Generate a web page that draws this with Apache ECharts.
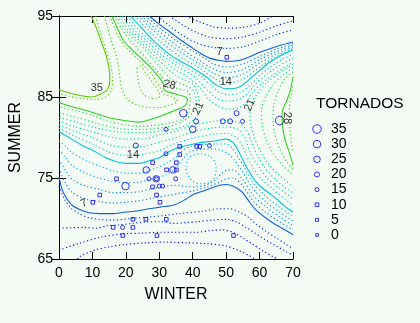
<!DOCTYPE html>
<html><head><meta charset="utf-8">
<script src="https://cdn.jsdelivr.net/npm/echarts@6/dist/echarts.min.js"></script>
<style>html,body{margin:0;padding:0;background:#f4fbf4}#c{width:420px;height:323px}</style>
</head><body><div id="c"></div>
<script>
// ---- axis ticks ----
const xTicks = [0,10,20,30,40,50,60,70];
const yTicks = [65,75,85,95];
// ---- tornado observations (winter temp, summer temp, count) ----
const tornadoX = [50.2,37.2,41.0,49.0,51.2,53.1,54.9,66.0,32.0,40.0,23.0,36.1,41.2,42.1,45.0,32.0,36.1,35.1,28.0,26.1,32.2,34.1,35.1,17.2,26.9,29.1,29.1,34.9,19.9,28.0,30.0,31.0,12.2,29.2,10.1,30.2,22.1,26.0,32.1,16.2,19.0,22.1,19.1,29.3,52.2];
const tornadoY = [89.9,83.0,82.0,82.0,82.0,83.0,82.0,82.1,81.0,81.0,79.0,78.9,78.9,78.9,79.0,78.0,77.9,76.9,76.9,76.0,76.0,76.0,76.0,74.9,74.9,74.9,74.9,74.9,74.0,73.9,74.0,74.0,72.9,72.9,72.0,72.0,69.9,69.9,69.9,68.9,68.9,68.9,67.9,67.9,67.9];
const tornadoN = [10,30,20,20,20,20,15,35,15,25,20,10,10,10,15,15,10,10,10,25,10,25,10,10,15,25,15,15,30,10,15,15,10,10,10,10,10,10,10,10,15,10,10,10,10];
// ---- legend ----
const legendValues = [35,30,25,20,15,10,5,0];
// ---- contour lines ([winter, summer]) ----
const c35 = [[0,85.9],[4,85.4],[9.6,85.0],[11.5,85.2],[14.4,85.9],[15.2,87.2],[14.9,88.7],[13.8,90.5],[12.5,92.0],[11.2,93.5],[9.6,95]];
const c28a = [[15.8,95],[17.5,93.5],[19.2,92.0],[22,90.8],[25,89.6],[27.5,88.6],[29.8,87.5],[31.2,86.7],[31.4,85.9],[34.6,85.4],[37.9,85.0],[38.4,84.6],[37.9,84.0],[35,83.4],[32.6,83.0],[28.8,82.4],[24,81.9],[19.5,82.1],[15.4,82.4],[11.5,82.9],[7.7,83.4],[4,83.8],[0,84.3]];
const c28b = [[70,87.5],[69.3,86],[68.2,84.6],[67,83.5],[66.7,82.6],[67.2,80.5],[67.8,79.5],[68.7,78.4],[70,76.6]];
const c14a = [[21.5,95],[24.5,93.6],[28.2,92],[32,90.6],[35.5,89.6],[39.5,88.7],[44,87.5],[47,86.5],[50,86.0],[53.8,86.2],[57.6,87.4],[62.4,89.1],[67.2,90.3],[70,90.8]];
const c14b = [[0,80.7],[3.8,79.8],[7,79],[10.6,78.3],[14,77.5],[17.3,77.0],[20,76.8],[24,76.8],[27.4,77.2],[30,77.5],[33.1,78.3],[36,78.8],[41.3,79.3],[47,79.6],[50,79.8],[52,79.4],[53.5,78.5],[55.5,76.8],[58.6,74.7],[61,73.7],[64,72.8],[68.2,71.3],[70,70.8]];
const c7a = [[26.9,95],[30,94],[33.6,92.9],[36.5,92],[39.4,91.2],[42.3,90.4],[45.1,89.8],[48,89.5],[50,89.4],[54.7,89.6],[60.5,90.6],[66.3,91.4],[70,91.8]];
const c7b = [[0,75.1],[1,73.5],[2.4,72.4],[4,71.6],[6.2,71.1],[9,70.7],[12,70.6],[15.8,70.6],[20,70.8],[22.6,70.9],[27,71.2],[30.2,71.4],[34.6,71.7],[38,72.4],[40.3,73.0],[42.5,73.3],[45.1,73.7],[48,74.1],[50,74.2],[52,74.0],[54.7,73.3],[56.7,72.2],[58.6,71.2],[62.4,69.9],[65,69.2],[68,68.5],[70,68.0]];
const dA1 = [[29.5,95],[33,93.8],[37,92.6],[41,91.7],[45,91.2],[50,91.0],[55,91.2],[60,91.9],[65,92.7],[70,93.3]];
const dA2 = [[33,95],[37,93.9],[41,93.0],[45,92.4],[50,92.2],[55,92.4],[60,93.0],[65,93.8],[70,94.4]];
const dA3 = [[38,95],[42,94.3],[46,93.7],[50,93.5],[55,93.6],[60,94.1],[64,95]];
const dB1 = [[25.8,95],[30.5,93.4],[34.9,92],[40,90.7],[44.3,89.6],[46,89.1],[50,88.7],[55,89.1],[60,90.0],[65,90.9],[70,91.6]];
const dB2 = [[24.7,95],[29,93.4],[33.2,92],[37.5,90.7],[42.1,89.5],[46,88.5],[50,88.0],[55,88.4],[60,89.6],[65,90.6],[70,91.4]];
const dB3 = [[23.7,95],[27.5,93.5],[31.5,92],[35.5,90.8],[39.9,89.6],[42,89.1],[46,88.0],[50,87.4],[55,87.8],[60,89.2],[65,90.3],[70,91.2]];
const dB4 = [[22.6,95],[26.2,93.5],[29.9,92],[33.8,90.7],[37.7,89.6],[42,88.6],[46,87.4],[50,86.7],[55,87.2],[60,88.7],[65,90.0],[70,91.0]];
const dC1 = [[20.6,95],[24,93.2],[27.2,92],[30.7,90.7],[34.1,89.6],[38.5,88.5],[42.6,87.5],[45.5,86.4],[48.5,85.5],[51,85.3],[54,85.5],[57,86.4],[60,87.6],[63.5,88.8],[67,89.7],[70,90.3]];
const dC2 = [[19.8,95],[23,93.1],[26.1,92],[29.3,90.7],[32.6,89.6],[36.5,88.5],[40.6,87.5],[44,86],[47,84.9],[50,84.5],[53,84.6],[56,85.3],[59,86.7],[62.5,87.9],[66,88.9],[70,89.8]];
const dC3 = [[19,95],[22,93.1],[25,92],[28,90.8],[31.2,89.6],[35,88.3],[38.4,87.5],[42,86.2],[45,84.6],[48,83.8],[51,83.5],[54,83.7],[56,84.4],[58,85.6],[61,86.8],[65,88.0],[70,89.3]];
const d21a = [[18.2,95],[21,93.1],[23.9,92],[26.5,90.9],[29,89.9],[32,88.7],[34.8,87.7],[37.5,87.1],[40,86.6],[41.5,85.4],[42,84],[41.5,82.8],[38,81.5],[32,80.9],[25,80.6],[18,80.7],[11,81.2],[5,81.9],[0,82.5]];
const d21b = [[70,89.0],[66,88.0],[62,86.7],[59.5,85.5],[57.8,84.3],[57.1,83],[57.3,81.7],[58.3,80.2],[60,78.5],[62.5,76.8],[66,75.3],[70,74.0]];
const dD1 = [[17.4,95],[20,93.2],[22.8,92],[25.3,91],[27.7,89.9],[30.2,88.7],[32.5,87.6],[35,86.9],[38,86.4],[40.2,85.8],[41,84.5],[40.2,83.2],[37,82.0],[32,81.3],[25,81.0],[18,81.1],[11,81.8],[5,82.5],[0,83.1]];
const dD2 = [[16.6,95],[18.6,93.5],[21,92.1],[23.5,91],[26,89.8],[28.5,88.6],[30.8,87.5],[32.5,86.6],[35,86.1],[38.5,85.7],[39.3,84.8],[38.5,83.0],[36.5,82.2],[32,81.7],[28.8,81.5],[24,81.4],[19.2,81.6],[14,82.1],[9.6,82.8],[5,83.3],[0,83.8]];
const dE1 = [[70,88.6],[67,87.7],[64,86.5],[61.8,85.0],[60.6,83.3],[60.8,81.5],[62,79.7],[64.3,77.9],[67.3,76.4],[70,75.4]];
const dE2 = [[70,88.1],[67.5,87.2],[65.5,85.7],[64.3,84.1],[64,82.4],[64.6,80.4],[66,78.6],[68,77.1],[70,76.1]];
const dE3 = [[70,86.3],[69.2,84.8],[68.9,83],[69.1,81],[69.5,79.5],[70,78.3]];
const dF1 = [[0,81.15],[5,80.1],[10,79.2],[15,78.2],[20,77.8],[25,77.9],[30,78.4],[35,79.3],[40,79.9],[46,80.4],[50,80.5],[53,80.0],[55,78.9],[56,77.8],[58,76.3],[60.2,75],[64,73.6],[67,72.6],[70,71.6]];
const dF2 = [[0,81.6],[5,80.7],[10,80.0],[15,79.1],[20,78.8],[25,78.9],[30,79.4],[35,80.0],[40,80.7],[46,81.2],[50,81.3],[53.5,81.0],[55.5,80.0],[57.4,78],[60,76.2],[62.2,75],[66,73.7],[70,72.4]];
const dF3 = [[0,82.05],[5,81.3],[10,80.7],[15,80.1],[20,79.8],[25,79.8],[30,80.3],[35,80.8],[40,81.5],[46,82.0],[50,82.1],[54,81.8],[56.3,80.8],[57.8,79.2],[59.1,78],[61.5,76.3],[64.3,75],[67,74.0],[70,73.2]];
const dG1 = [[0,76.2],[2,74.3],[4,73.2],[8,72.4],[12,72.1],[16,71.9],[20,72.0],[24,72.2],[28,72.5],[32,72.8],[36,73.1],[40,73.4],[44,73.85],[48,74.5],[50,74.9],[52,75.0],[55,74.0],[58,72.2],[62,70.7],[66,69.6],[70,68.6]];
const dG2 = [[0,77.3],[2,75.9],[4,74.8],[8,74.0],[12,73.6],[16,73.2],[20,73.2],[24,73.3],[28,73.7],[32,74.0],[35,74.1],[38,73.95],[41,73.9],[44,74.15],[46.5,74.7],[48.5,75.5],[50.5,76.0],[52,76.0],[55,74.8],[58,72.9],[62,71.4],[66,70.2],[70,69.1]];
const dG3 = [[0,78.5],[2,77.5],[4,76.5],[8,75.6],[12,75.0],[16,74.6],[20,74.4],[24,74.5],[28,74.9],[32,75.4],[35,76.2],[37,77.3],[39,78.2],[42,78.5],[45,78.6],[48,78.5],[50.5,78.0],[52.5,77.2],[55,75.7],[58,73.7],[62,72.0],[66,70.8],[70,69.7]];
const dG4 = [[0,79.6],[2,78.9],[4,78.1],[8,77.2],[12,76.5],[16,75.9],[20,75.6],[24,75.6],[28,76.1],[32,76.8],[35,77.6],[37,78.4],[39.5,78.9],[43,79.1],[47,79.2],[50,79.2],[52,78.6],[53.5,77.6],[55.5,76.3],[58,74.4],[62,72.7],[66,71.4],[70,70.2]];
const dLoop = [[38,76.4],[38.6,77.3],[40,77.8],[42.5,78.0],[45,77.7],[46.6,77.0],[47,76.0],[46.4,75.0],[44.8,74.4],[42.5,74.3],[40,74.6],[38.5,75.4],[38,76.4]];
const dH1 = [[0,74.0],[1.5,72.5],[3.5,71.3],[6,70.6],[9,70.1],[12,69.9],[15.8,69.8],[21.6,70.0],[27.4,70.2],[32.2,70.4],[36,70.6],[43,70.9],[48,71.2],[51,71.2],[54,70.8],[56.5,70.2],[59,69.3],[62,68.4],[65,67.6],[68,66.8],[70,66.3]];
const dH2 = [[0,68.8],[7.7,68.9],[11,68.8],[14.4,69.1],[17.8,69.2],[22,69.4],[26.4,69.6],[30,69.6],[34.6,69.4],[38,69.5],[41.3,69.6],[46,69.8],[50,69.9],[53,69.6],[56,68.9],[59,68.1],[62,67.3],[65,66.6],[68,65.9],[70,65.5]];
const dH3 = [[0,66.1],[5.8,66.9],[12.5,67.7],[19.2,68.1],[25,68.2],[31,68.3],[34.6,68.3],[41.3,68.3],[45.1,68.5],[49,68.6],[52,68.3],[55,67.6],[58,66.8],[61,66.0],[64,65.3],[65.5,65]];
const dH4 = [[5.5,65],[6.2,65.3],[10.6,66.1],[15,66.5],[20,66.8],[26,67.0],[32,67.1],[38,67.0],[44,66.9],[50,66.6],[54,66.0],[57,65.4],[58.5,65]];
const dI2 = [[13.6,95],[14.6,93.5],[15.6,92],[16.8,90.5],[17.7,89],[18.2,87.5],[18.8,86],[20.5,84.7],[23.5,84.0],[27,83.7],[30,83.7],[33,84.0],[35.5,84.5],[33.5,85.1],[31.2,85.4],[30.2,86.2],[28.3,87.5],[26,88.6],[23.5,89.7],[20.5,90.9],[17.9,92.3],[16.4,93.7],[15.2,95]];
const dI3 = [[23.3,88.6],[23.6,87.3],[24.2,86.1],[25.4,85.3],[27,84.9],[29,84.8],[30.2,85.1],[29.5,85.9],[27.8,86.9],[26,87.9],[24.3,88.8],[23.3,88.6]];
const dI4 = [[11.0,95],[12,93.5],[13.1,92],[14.3,90.5],[15.4,89],[16,87.4],[15.7,85.9],[14,85.0],[11,84.7],[7,84.8],[3,85.1],[0,85.4]];
// contour label positions and texts
const contourLabels = [[11.3,86.1,'35'],[33.1,86.5,'28'],[41.7,83.6,'21'],[57.1,84.0,'21'],[68.2,82.4,'28'],[49.9,86.8,'14'],[22.1,77.9,'14'],[48.0,90.6,'7'],[7.5,71.9,'7']];

// ---- styling ----
const FONT = 'Liberation Sans, Arial, sans-serif';
const levelColor = {1.4:'#0000f6',2.8:'#0010f2',4.2:'#0024ee',5.6:'#0040e8',7:'#1060e0',8.4:'#0878e4',9.8:'#068ee2',11.2:'#04a4de',12.6:'#02b6da',14:'#00c4d8',15.4:'#00cace',16.8:'#00cfc0',18.2:'#00d3b0',19.6:'#00d6a0',21:'#00d890',23.8:'#14d868',26.6:'#24d43c',28:'#30d020',29.4:'#3ccf14',30.8:'#44cc0c',33.6:'#54c802',35:'#5cc800'};
const lines = [
  [dA1,5.6,0],[dA2,4.2,0],[dA3,2.8,0],
  [dB1,8.4,0],[dB2,9.8,0],[dB3,11.2,0],[dB4,12.6,0],
  [dC1,15.4,0],[dC2,16.8,0],[dC3,18.2,0],[d21a,21,0],[d21b,21,0],
  [dD1,23.8,0],[dD2,26.6,0],[dE1,23.8,0],[dE2,26.6,0],[dE3,29.4,0],
  [dF1,16.8,0],[dF2,18.2,0],[dF3,19.6,0],
  [dG1,8.4,0],[dG2,9.8,0],[dG3,11.2,0],[dG4,12.6,0],[dLoop,12.6,0],
  [dH1,5.6,0],[dH2,4.2,0],[dH3,2.8,0],[dH4,1.4,0],
  [dI2,30.8,0],[dI3,30.8,0],[dI4,33.6,0],
  [c35,35,1],[c28a,28,1],[c28b,28,1],[c14a,14,1],[c14b,14,1],[c7a,7,1],[c7b,7,1]
];
const labelRotate = [0,-15,65,65,-90,0,0,0,25];
const sizeOf = {35:8.5,30:7.5,25:6.5,20:5,15:4,10:3.6,5:3,0:2.6};
const symbolOf = v => v >= 15 ? 'circle' : 'rect';
const markerStyle = {color:'rgba(0,0,0,0)', borderColor:'#0000ff', borderWidth:1};

const series = lines.map(([d, lev, solid]) => ({
  type:'line', xAxisIndex:0, yAxisIndex:0, data:d, showSymbol:false, symbol:'none',
  smooth:0.3, silent:true, animation:false, clip:true, z: solid ? 3 : 2,
  lineStyle: solid ? {color:levelColor[lev], width:1.1, type:'solid'}
                   : {color:levelColor[lev], width:1.15, type:[1.2,2.5]}
}));
series.push({
  type:'scatter', xAxisIndex:0, yAxisIndex:0, z:5, silent:true, animation:false,
  data: tornadoX.map((x,i)=>[x, tornadoY[i], tornadoN[i]]),
  symbol: p => symbolOf(p[2]), symbolSize: p => sizeOf[p[2]], itemStyle: markerStyle
});
series.push({
  type:'scatter', xAxisIndex:0, yAxisIndex:0, z:6, silent:true, animation:false,
  symbolSize:1, itemStyle:{color:'rgba(0,0,0,0)'},
  data: contourLabels.map((c,i)=>({value:[c[0],c[1]], label:{rotate:labelRotate[i], formatter:c[2]}})),
  label:{show:true, position:'inside', fontSize:11, color:'#000', fontFamily:FONT}
});
series.push({
  type:'scatter', xAxisIndex:2, yAxisIndex:2, silent:true, animation:false,
  data: legendValues.map((v,i)=>[0.5,i,v]),
  symbol: p => symbolOf(p[2]), symbolSize: p => sizeOf[p[2]], itemStyle: markerStyle
});

const axisLine = {show:true, lineStyle:{color:'#000', width:1}};
const tick = {show:true, inside:true, length:7, lineStyle:{color:'#000'}};
const chart = echarts.init(document.getElementById('c'), null, {renderer:'canvas'});
chart.setOption({
  backgroundColor:'#f4fbf4',
  animation:false,
  textStyle:{fontFamily:FONT},
  title:{text:'TORNADOS', left:316, top:96, padding:0, textStyle:{fontSize:15.5, fontWeight:'normal', color:'#000', fontFamily:FONT}},
  grid:[{left:50, top:16, width:243, height:243}, {left:311, top:129, width:12, height:106}],
  xAxis:[
    {gridIndex:0, type:'value', position:'bottom', min:xTicks[0], max:xTicks[xTicks.length-1], interval:10,
     axisLine, axisTick:tick, splitLine:{show:false},
     axisLabel:{fontSize:14, color:'#000', margin:7, fontFamily:FONT},
     name:'WINTER', nameLocation:'middle', nameGap:28, nameTextStyle:{fontSize:16, color:'#000', fontFamily:FONT}},
    {gridIndex:0, type:'value', position:'top', min:0, max:70, interval:10,
     axisLine, axisTick:tick, splitLine:{show:false}, axisLabel:{show:false}},
    {gridIndex:1, type:'value', min:0, max:1, show:false}
  ],
  yAxis:[
    {gridIndex:0, type:'value', position:'left', min:yTicks[0], max:yTicks[yTicks.length-1], interval:10,
     axisLine, axisTick:tick, splitLine:{show:false},
     axisLabel:{fontSize:14, color:'#000', margin:6, fontFamily:FONT},
     name:'SUMMER', nameLocation:'middle', nameRotate:90, nameGap:35, nameTextStyle:{fontSize:16, color:'#000', fontFamily:FONT}},
    {gridIndex:0, type:'value', position:'right', min:65, max:95, interval:10,
     axisLine, axisTick:tick, splitLine:{show:false}, axisLabel:{show:false}},
    {gridIndex:1, type:'category', data:legendValues.map(String), inverse:true, boundaryGap:false, position:'right',
     axisLine:{show:false}, axisTick:{show:false}, splitLine:{show:false},
     axisLabel:{interval:0, margin:8, fontSize:14, color:'#000', fontFamily:FONT}}
  ],
  series
});
</script></body></html>
